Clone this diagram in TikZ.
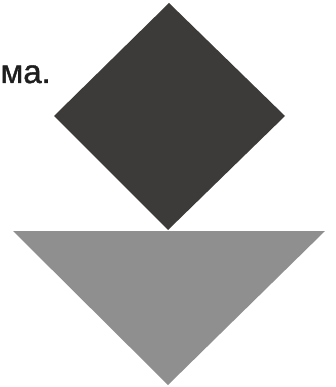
\documentclass[tikz,border=0pt]{standalone}
\usepackage{fontspec}
\setmainfont{Liberation Sans}
\newfontfamily\wordfont[FakeBold=1.2]{Liberation Sans}
\definecolor{darkshape}{HTML}{3D3B39}
\definecolor{lightshape}{HTML}{8F8F8F}
\definecolor{inktext}{HTML}{1E1E1E}
\begin{document}
\begin{tikzpicture}[
    x=1pt, y=-1pt,
    sq/.style={fill=darkshape},
    tri/.style={fill=lightshape},
    word/.style={font=\wordfont\fontsize{33}{38}\selectfont, text=inktext, inner sep=0pt}
]
    \useasboundingbox (0,0) rectangle (335,387);

    % Corners
    \coordinate (sqT) at (169,3);
    \coordinate (sqL) at (54,116);
    \coordinate (sqB) at (168,230);
    \coordinate (sqR) at (285,116);
    \coordinate (triL) at (13,231);
    \coordinate (triR) at (325,231);
    \coordinate (triB) at (168,385);

    % Shapes
    \fill[sq] (sqT) -- (sqR) -- (sqB) -- (sqL) -- cycle;
    \fill[tri] (triL) -- (triR) -- (triB) -- cycle;

    % Text
    \node[word, anchor=base east] (wordtail) at (51,83) {ма.};

\end{tikzpicture}
\end{document}
